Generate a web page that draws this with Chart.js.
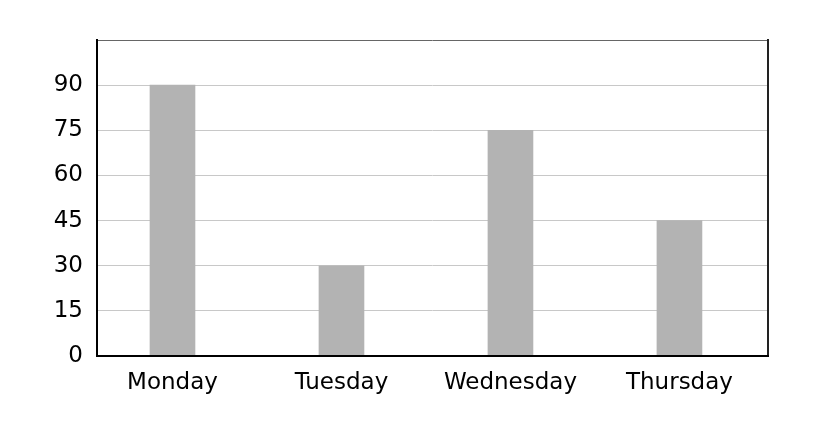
<!DOCTYPE html>
<html>
<head>
<meta charset="utf-8">
<script src="https://cdn.jsdelivr.net/npm/chart.js@4"></script>
<style>
html,body{margin:0;padding:0;background:#fff;}
#wrap{width:814px;height:424px;}
</style>
</head>
<body>
<div id="wrap"><canvas id="c" width="814" height="424"></canvas></div>
<script>
const categories = ["Monday", "Tuesday", "Wednesday", "Thursday"];
const values = [90, 30, 75, 45];
const yTicks = [0, 15, 30, 45, 60, 75, 90];
const yMax = 105;

const borderPlugin = {
  id: 'frame',
  afterDraw(chart) {
    const {ctx, chartArea: a} = chart;
    ctx.save();
    ctx.lineCap = 'square';
    ctx.strokeStyle = '#666';
    ctx.lineWidth = 1;
    ctx.beginPath(); ctx.moveTo(a.left, a.top + 0.5); ctx.lineTo(a.right, a.top + 0.5); ctx.stroke();
    ctx.strokeStyle = '#222';
    ctx.lineWidth = 2;
    ctx.beginPath(); ctx.moveTo(a.right, a.top); ctx.lineTo(a.right, a.bottom); ctx.stroke();
    ctx.strokeStyle = '#000';
    ctx.beginPath(); ctx.moveTo(a.left, a.top); ctx.lineTo(a.left, a.bottom); ctx.lineTo(a.right, a.bottom); ctx.stroke();
    ctx.restore();
  }
};

new Chart(document.getElementById('c'), {
  type: 'bar',
  data: {
    datasets: [{
      data: values.map((v, i) => ({x: i, y: v})),
      backgroundColor: '#b3b3b3',
      borderWidth: 0,
      barThickness: 45
    }]
  },
  plugins: [borderPlugin],
  options: {
    responsive: false,
    animation: false,
    layout: {padding: {top: 40, right: 46, left: 0, bottom: 0}},
    plugins: {legend: {display: false}, tooltip: {enabled: false}},
    scales: {
      x: {
        type: 'linear',
        min: -0.4467,
        max: 3.524,
        offset: false,
        afterBuildTicks(scale) { scale.ticks = categories.map((c, i) => ({value: i})); },
        afterFit(scale) { scale.height = 68; },
        grid: {display: false, drawTicks: false},
        border: {display: false},
        ticks: {
          callback: (v) => categories[v] ?? '',
          color: '#000',
          font: {family: 'DejaVu Sans', size: 23},
          padding: 13,
          maxRotation: 0,
          autoSkip: false
        }
      },
      y: {
        min: 0,
        max: yMax,
        afterBuildTicks(scale) { scale.ticks = yTicks.map(v => ({value: v})); },
        afterFit(scale) { scale.width = 97; },
        grid: {color: '#c8c8c8', lineWidth: 1, drawTicks: false},
        border: {display: false},
        ticks: {
          color: '#000',
          font: {family: 'DejaVu Sans', size: 23},
          padding: 14
        }
      }
    }
  }
});
</script>
</body>
</html>
